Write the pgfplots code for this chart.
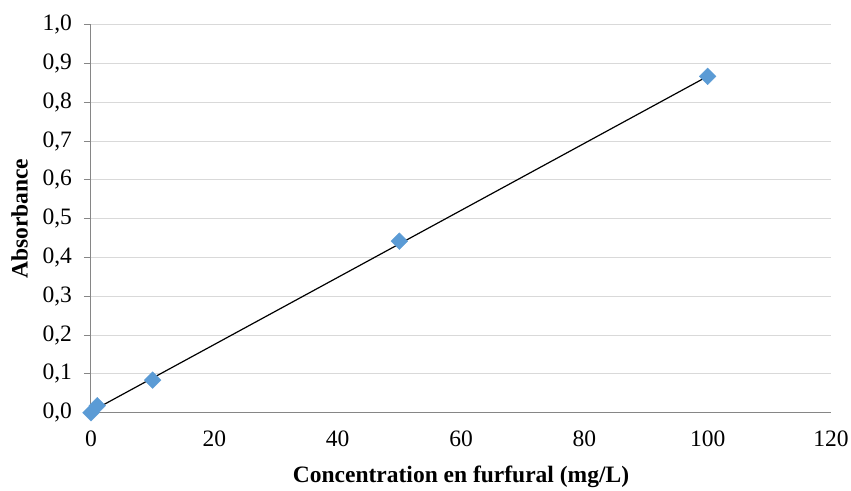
\documentclass[border=0pt]{standalone}
\usepackage{fontspec}
\setmainfont{Liberation Serif}
\usepackage{pgfplots}
\pgfplotsset{compat=1.18}
\definecolor{ptblue}{RGB}{91,155,213}
\definecolor{axgray}{RGB}{134,134,134}
\definecolor{grgray}{RGB}{217,217,217}
\begin{document}
\fontsize{23.5}{28}\selectfont
\begin{tikzpicture}
\begin{axis}[
  scale only axis,
  width=740pt, height=388pt,
  at={(0,0)}, anchor=south west,
  xmin=0, xmax=120, ymin=0, ymax=1,
  xtick={0,20,40,60,80,100,120},
  ytick={0,0.1,0.2,0.3,0.4,0.5,0.6,0.7,0.8,0.9,1.0},
  axis x line*=bottom, axis y line*=left,
  axis line style={draw=axgray, line width=1pt},
  ymajorgrids, grid style={draw=grgray, line width=1pt},
  tick align=outside, major tick length=7pt,
  ytick style={draw=axgray, line width=1pt},
  xtick style={draw=none},
  /pgf/number format/assume math mode=true,
  yticklabel style={/pgf/number format/use comma, /pgf/number format/fixed, /pgf/number format/fixed zerofill, /pgf/number format/precision=1, xshift=-4pt},
  xticklabel style={anchor=base, yshift=-27pt},
  xlabel={\textbf{Concentration en furfural (mg/L)}},
  ylabel={\textbf{Absorbance}},
  xlabel style={at={(axis description cs:0.5,0)}, anchor=base, yshift=-70pt},
  ylabel style={at={(axis description cs:0,0.5)}, anchor=center, yshift=71.3pt},
  clip=false,
]
\addplot[black, line width=1.2pt] coordinates {(0,0.003) (100,0.867)};
\addplot[only marks, mark=square*, mark size=5.9pt, mark options={rotate=45, fill=ptblue, draw=ptblue}]
  coordinates {(0,0.0) (1,0.018) (10,0.084) (50,0.442) (100,0.867)};
\end{axis}
\pgfresetboundingbox
\path[use as bounding box] (-91pt,-77.3pt) rectangle (760pt,412.7pt);
\end{tikzpicture}
\end{document}
